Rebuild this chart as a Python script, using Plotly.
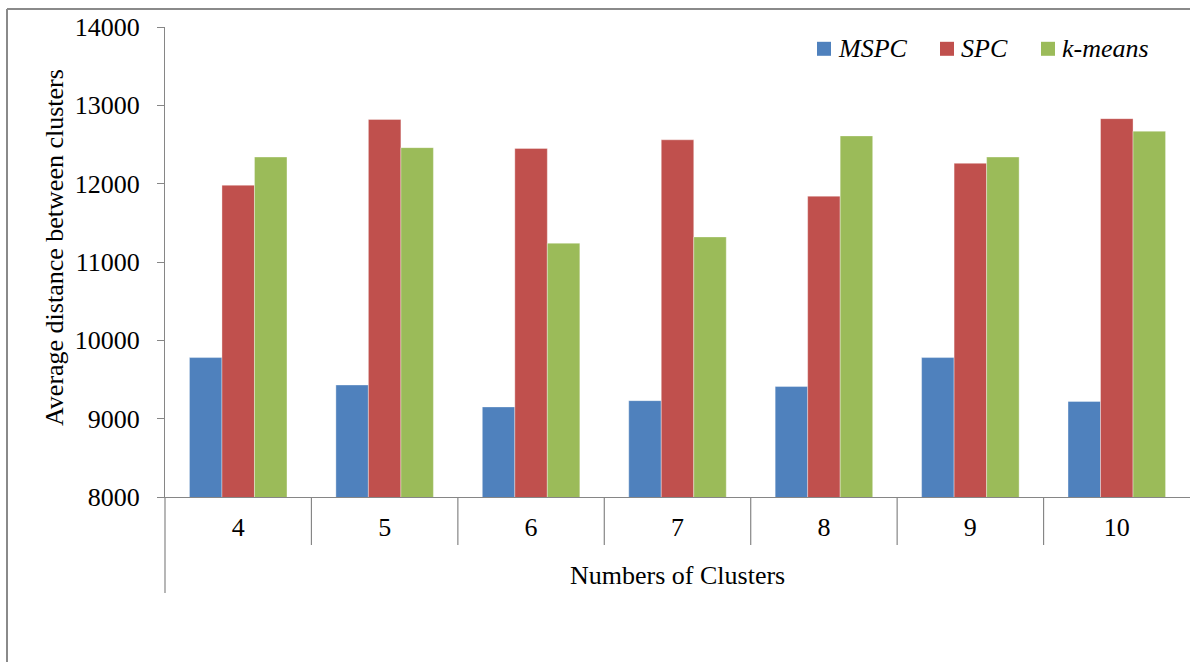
import plotly.graph_objects as go

# Average distance between clusters for each clustering method
clusters = ["4", "5", "6", "7", "8", "9", "10"]
series_names = ["MSPC", "SPC", "k-means"]
mspc = [9780, 9430, 9150, 9230, 9410, 9780, 9220]
spc = [11980, 12820, 12450, 12560, 11840, 12260, 12830]
kmeans = [12340, 12460, 11240, 11320, 12610, 12340, 12670]
y_ticks = [8000, 9000, 10000, 11000, 12000, 13000, 14000]

colors = ["#4F81BD", "#C0504D", "#9BBB59"]
FONT = "Liberation Serif, Times New Roman, serif"
AXIS_GREY = "#868686"

W, H = 1190, 662
ML, MR, MT, MB = 165, 0, 27, 165
PW, PH = W - ML - MR, H - MT - MB


def px_x(x):
    return (x - ML) / PW


def px_y(y):
    return (H - MB - y) / PH


fig = go.Figure()
for name, vals, col in zip(series_names, [mspc, spc, kmeans], colors):
    fig.add_trace(go.Bar(
        x=clusters, y=vals, name=name,
        marker=dict(color=col, line=dict(color="rgba(255,255,255,0.45)", width=0.8)),
        showlegend=False,
    ))

shapes = []
# category separators below the x axis
for k in range(1, len(clusters)):
    shapes.append(dict(type="line", xref="x", yref="paper",
                       x0=k - 0.5, x1=k - 0.5, y0=0, y1=-48 / PH,
                       line=dict(color=AXIS_GREY, width=1.2)))
# y axis line extended below the category band
shapes.append(dict(type="line", xref="paper", yref="paper",
                   x0=0, x1=0, y0=0, y1=-96 / PH,
                   line=dict(color=AXIS_GREY, width=1.2)))
# chart frame (left and top edges)
shapes.append(dict(type="line", xref="paper", yref="paper",
                   x0=px_x(7), x1=px_x(7), y0=px_y(9), y1=px_y(700),
                   line=dict(color="#8A8A8A", width=2)))
shapes.append(dict(type="line", xref="paper", yref="paper",
                   x0=px_x(7), x1=px_x(1300), y0=px_y(9), y1=px_y(9),
                   line=dict(color="#8A8A8A", width=2)))

annotations = []
# legend built from the series names
legend_x = [817, 940, 1041]
legend_yc = 48.8
for name, col, lx in zip(series_names, colors, legend_x):
    shapes.append(dict(type="rect", xref="paper", yref="paper",
                       x0=px_x(lx), x1=px_x(lx + 14),
                       y0=px_y(legend_yc + 7), y1=px_y(legend_yc - 7),
                       fillcolor=col, line=dict(width=0)))
    annotations.append(dict(xref="paper", yref="paper", x=px_x(lx + 19), y=px_y(legend_yc),
                            xanchor="left", yanchor="middle", showarrow=False,
                            text=f"<i>{name}</i>",
                            font=dict(family=FONT, size=26, color="black")))

annotations.append(dict(xref="paper", yref="paper", x=px_x(55), y=px_y(248),
                        xanchor="center", yanchor="middle", showarrow=False,
                        textangle=-90, text="Average distance between clusters",
                        font=dict(family=FONT, size=26, color="black")))
annotations.append(dict(xref="paper", yref="paper", x=0.5, y=px_y(575),
                        xanchor="center", yanchor="middle", showarrow=False,
                        text="Numbers of Clusters",
                        font=dict(family=FONT, size=26, color="black")))

fig.update_layout(
    width=W, height=H,
    margin=dict(l=ML, r=MR, t=MT, b=MB, pad=0),
    paper_bgcolor="white", plot_bgcolor="white",
    barmode="group", bargap=0.334, bargroupgap=0,
    font=dict(family=FONT, size=26, color="black"),
    shapes=shapes, annotations=annotations,
    xaxis=dict(type="category", showline=True, linecolor=AXIS_GREY, linewidth=1.2,
               ticks="", showgrid=False, zeroline=False,
               tickfont=dict(family=FONT, size=26, color="black"),
               ticklabelstandoff=7),
    yaxis=dict(range=[8000, 14000], tickvals=y_ticks, tickformat="d",
               showline=True, linecolor=AXIS_GREY, linewidth=1.2,
               ticks="outside", ticklen=7, tickcolor=AXIS_GREY, tickwidth=1.2,
               showgrid=False, zeroline=False,
               tickfont=dict(family=FONT, size=26, color="black"),
               ticklabelstandoff=12),
)

fig.write_html("out.html")
